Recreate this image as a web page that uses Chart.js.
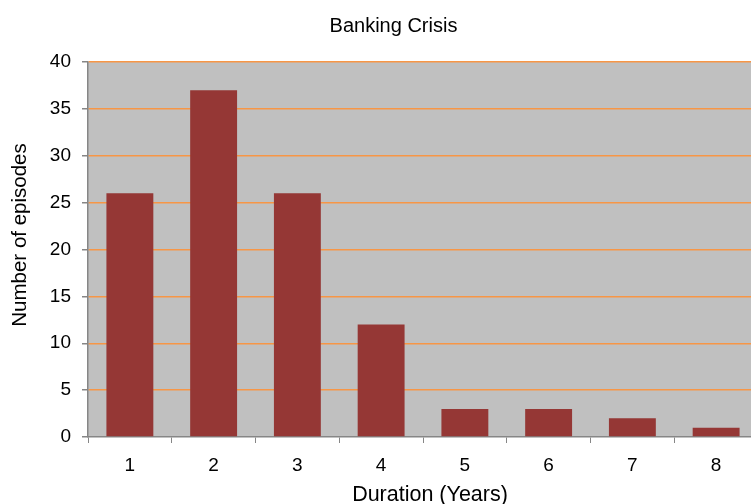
<!DOCTYPE html>
<html>
<head>
<meta charset="utf-8">
<script src="https://cdn.jsdelivr.net/npm/chart.js@4"></script>
<style>
  html, body { margin: 0; padding: 0; background: #fff; overflow: hidden; }
  #wrap { width: 758px; height: 504px; }
</style>
</head>
<body>
<div id="wrap"><canvas id="barChart" width="758" height="504"></canvas></div>
<script>
const durations = ["1", "2", "3", "4", "5", "6", "7", "8"];
const episodes = [26, 37, 26, 12, 3, 3, 2, 1];
const yTicks = [0, 5, 10, 15, 20, 25, 30, 35, 40];

const FONT = "'Liberation Sans', Arial, sans-serif";
const AXIS_GRAY = "#868686";

// gray plot background, chart title and both axis titles
const plotDecor = {
  id: "plotDecor",
  beforeDraw(chart) {
    const { ctx, chartArea: a } = chart;
    ctx.save();
    ctx.fillStyle = "#c0c0c0";
    ctx.fillRect(a.left, a.top, a.right - a.left, a.bottom - a.top);
    ctx.restore();
  },
  afterDraw(chart) {
    const ctx = chart.ctx;
    ctx.save();
    ctx.fillStyle = "#000";
    ctx.textAlign = "center";
    ctx.textBaseline = "alphabetic";

    ctx.font = "20px " + FONT;
    ctx.fillText("Banking Crisis", 393.5, 31.5);

    ctx.font = "21.5px " + FONT;
    ctx.fillText("Duration (Years)", 430, 501);

    ctx.translate(25.5, 235);
    ctx.rotate(-Math.PI / 2);
    ctx.font = "20.5px " + FONT;
    ctx.fillText("Number of episodes", 0, 0);
    ctx.restore();
  }
};

const barChart = new Chart(document.getElementById("barChart"), {
  type: "bar",
  data: {
    labels: durations,
    datasets: [{
      label: "Episodes",
      data: episodes,
      backgroundColor: "#953735",
      categoryPercentage: 1,
      barPercentage: 0.56
    }]
  },
  options: {
    responsive: false,
    animation: false,
    layout: { padding: { top: 62, right: 0, bottom: 0, left: 0 } },
    plugins: {
      legend: { display: false },
      tooltip: { enabled: false },
      title: { display: false }
    },
    scales: {
      x: {
        grid: {
          drawOnChartArea: false,
          drawTicks: true,
          tickLength: 6,
          tickColor: AXIS_GRAY
        },
        border: { color: AXIS_GRAY, width: 1.5 },
        ticks: {
          color: "#000",
          font: { family: FONT, size: 19 },
          padding: 11
        },
        afterFit(scale) { scale.height = 67; }
      },
      y: {
        min: 0,
        max: 40,
        afterBuildTicks(scale) { scale.ticks = yTicks.map(v => ({ value: v })); },
        grid: {
          color: ctx => (ctx.tick && ctx.tick.value === 0 ? "rgba(0,0,0,0)" : "#f79646"),
          lineWidth: 1.5,
          tickLength: 6,
          tickColor: AXIS_GRAY
        },
        border: { color: AXIS_GRAY, width: 1.5 },
        ticks: {
          color: "#000",
          font: { family: FONT, size: 19 },
          padding: 11
        },
        afterFit(scale) { scale.width = 88; }
      }
    }
  },
  plugins: [plotDecor]
});
</script>
</body>
</html>
